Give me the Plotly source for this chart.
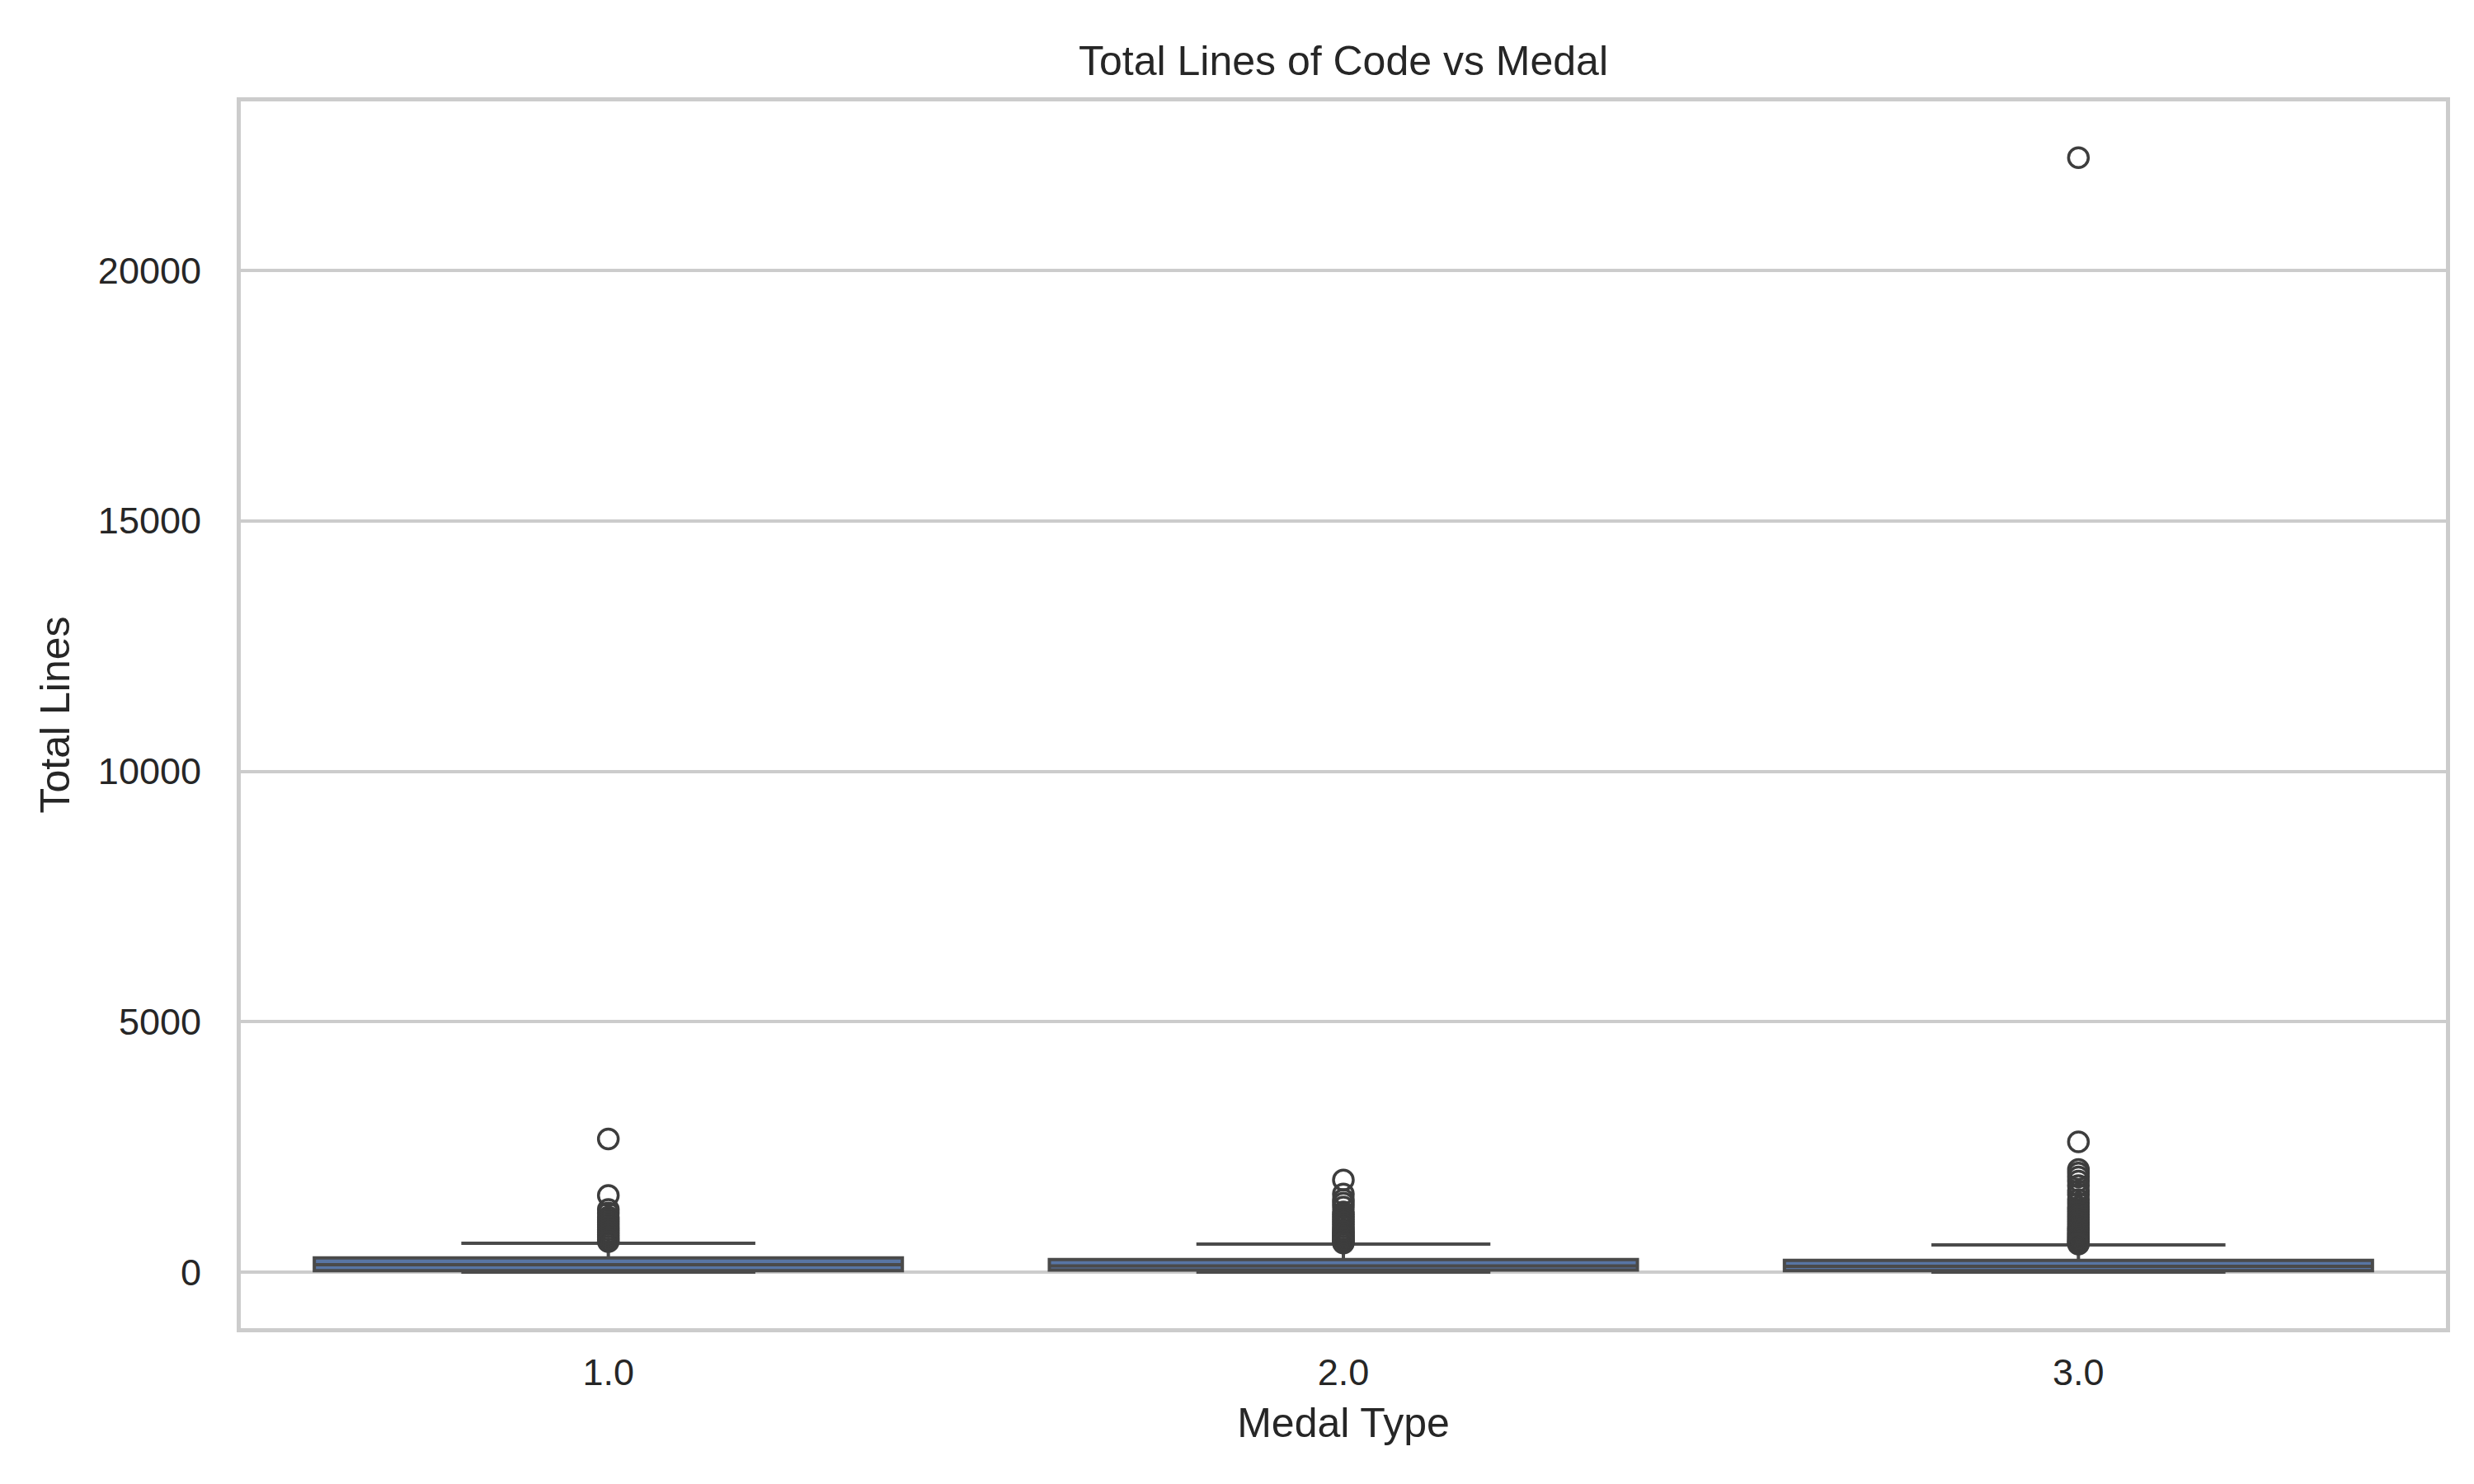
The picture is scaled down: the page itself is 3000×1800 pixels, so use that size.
import plotly.graph_objects as go

# medal categories and box statistics
medals = ['1.0', '2.0', '3.0']
q1_vals = [30, 40, 30]
median_vals = [150, 125, 115]
q3_vals = [285, 250, 235]
lower_vals = [0, 0, 0]
upper_vals = [575, 560, 545]

# outliers per medal
outliers_1 = [2660, 1530, 1250, 1180, 1100, 1050, 1000, 950, 900, 850, 800, 750, 700, 650, 610]
outliers_2 = [1840, 1560, 1450, 1380, 1300, 1200, 1150, 1100, 1050, 1000, 950, 900, 850,
              820, 780, 750, 720, 690, 660, 630, 600, 580]
outliers_3 = [22250, 2600, 2050, 1980, 1900, 1820, 1730, 1620, 1550, 1450, 1380, 1300, 1250,
              1200, 1150, 1100, 1050, 1000, 950, 900, 870, 840, 800, 770, 740, 710, 680,
              650, 620, 600, 580, 560]

y_ticks = [0, 5000, 10000, 15000, 20000]

FONT = 'Liberation Sans, Arial, sans-serif'
LINE = 'rgb(74,74,74)'
GRID = 'rgb(204,204,204)'
TXT = 'rgb(38,38,38)'

fig = go.Figure()

fig.add_trace(go.Box(
    x=medals,
    q1=q1_vals,
    median=median_vals,
    q3=q3_vals,
    lowerfence=lower_vals,
    upperfence=upper_vals,
    boxpoints=False,
    width=0.8,
    fillcolor='rgb(88,117,164)',
    line=dict(color=LINE, width=4),
    whiskerwidth=0.5,
    showlegend=False,
))

out_x = []
out_y = []
for m, vals in zip(medals, [outliers_1, outliers_2, outliers_3]):
    for v in vals:
        out_x.append(m)
        out_y.append(v)

fig.add_trace(go.Scatter(
    x=out_x,
    y=out_y,
    mode='markers',
    marker=dict(symbol='circle-open', size=24, color='rgb(61,61,61)',
                line=dict(width=3.5, color='rgb(61,61,61)')),
    showlegend=False,
))

fig.update_layout(
    width=3000,
    height=1800,
    margin=dict(l=284, r=42, t=115, b=197),
    plot_bgcolor='white',
    paper_bgcolor='white',
    font=dict(family=FONT, color=TXT),
    title=dict(
        text='Total Lines of Code vs Medal',
        font=dict(family=FONT, size=50, color=TXT),
        x=(284 + (3000 - 42 - 284) / 2) / 3000,
        xanchor='center',
        xref='container',
        y=1 - 65 / 1800,
        yref='container',
        yanchor='middle',
    ),
)

fig.update_xaxes(
    type='category',
    categoryorder='array',
    categoryarray=medals,
    range=[-0.5, 2.5],
    showgrid=False,
    zeroline=False,
    showline=True,
    mirror=True,
    linecolor=GRID,
    linewidth=5,
    ticks='outside',
    ticklen=10,
    tickcolor='rgba(0,0,0,0)',
    tickfont=dict(family=FONT, size=45, color=TXT),
    title=dict(text='Medal Type', standoff=20,
               font=dict(family=FONT, size=50, color=TXT)),
)

fig.update_yaxes(
    range=[-1119, 23374],
    tickvals=y_ticks,
    ticktext=[str(t) for t in y_ticks],
    showgrid=True,
    gridcolor=GRID,
    gridwidth=4,
    zeroline=False,
    showline=True,
    mirror=True,
    linecolor=GRID,
    linewidth=5,
    ticks='outside',
    ticklen=34,
    tickcolor='rgba(0,0,0,0)',
    tickfont=dict(family=FONT, size=45, color=TXT),
    title=dict(text='Total Lines', standoff=20,
               font=dict(family=FONT, size=50, color=TXT)),
)

fig.write_html('out.html')
